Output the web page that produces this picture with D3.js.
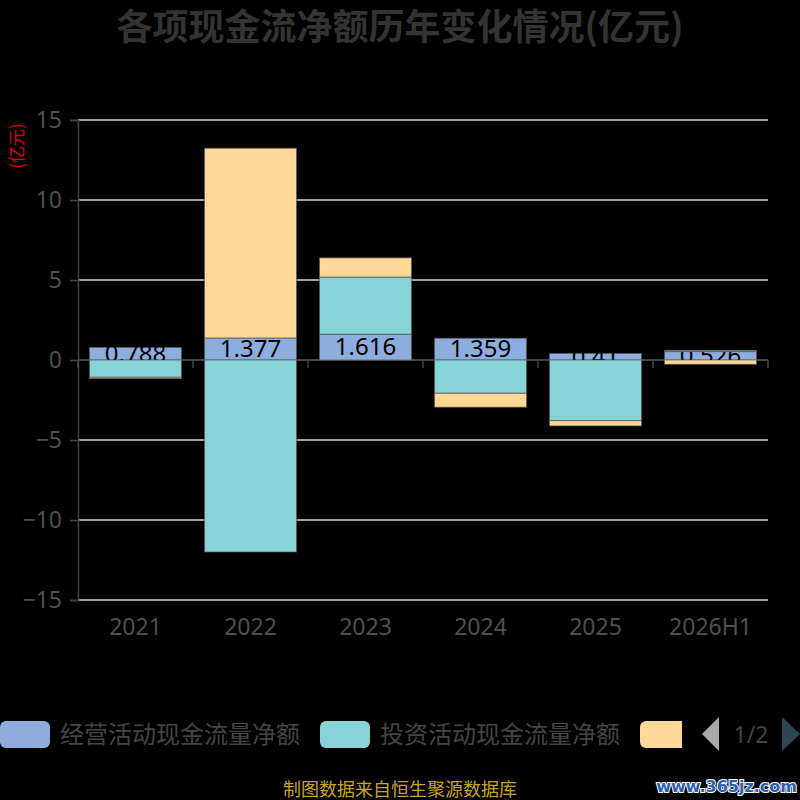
<!DOCTYPE html>
<html lang="zh">
<head>
<meta charset="utf-8">
<style type="text/css">
  body { margin: 0; background: #000; }
  svg { display: block; background: #000; font-family: "Noto Sans CJK SC", "Noto Sans", sans-serif; }
  .grid line { stroke: #d4d4d4; stroke-width: 1.5px; }
  .tick-label { fill: #4f4f4f; font-family: "Noto Sans", "Open Sans", sans-serif; }
</style>
</head>
<body>
<svg width="800" height="800"></svg>

<script src="https://cdn.jsdelivr.net/npm/d3@7/dist/d3.min.js"></script>
<script type="text/javascript">
// data (亿元)
var categories = ["2021", "2022", "2023", "2024", "2025", "2026H1"];
var operating = [0.788, 1.377, 1.616, 1.359, 0.41, 0.526];
var investing = [-1.08, -12.0, 3.57, -2.08, -3.79, 0.08];
var financing = [-0.08, 11.86, 1.2, -0.87, -0.33, -0.27];
var seriesNames = ["经营活动现金流量净额", "投资活动现金流量净额", "筹资活动现金流量净额"];
var seriesColors = ["#8eaddf", "#86d4d8", "#ffd796"];
var yTicks = [-15, -10, -5, 0, 5, 10, 15];

var svg = d3.select("svg"),
    plotLeft = 78, plotRight = 768, plotTop = 120, plotBottom = 600;

var x = d3.scaleBand().domain(categories).range([plotLeft, plotRight]).paddingInner(0.2).paddingOuter(0.1);
var xb = d3.scaleBand().domain(categories).range([plotLeft, plotRight]); // for tick positions
var y = d3.scaleLinear().domain([-15, 15]).range([plotBottom, plotTop]);

// title
svg.append("text")
  .attr("x", 400).attr("y", 40)
  .attr("text-anchor", "middle")
  .attr("font-size", 36).attr("font-weight", "bold")
  .attr("fill", "#333")
  .text("各项现金流净额历年变化情况(亿元)");

// y axis name
svg.append("text")
  .attr("transform", "translate(23,146) rotate(-90)")
  .attr("text-anchor", "middle")
  .attr("font-size", 17)
  .attr("fill", "#e00000")
  .text("(亿元)");

// grid lines (not at zero)
svg.append("g").attr("class", "grid")
  .selectAll("line")
  .data(yTicks.filter(function(d){ return d !== 0; }))
  .enter().append("line")
    .attr("x1", plotLeft).attr("x2", plotRight)
    .attr("y1", function(d){ return y(d); })
    .attr("y2", function(d){ return y(d); });

// y axis
var yAxis = svg.append("g")
  .attr("transform", "translate(" + plotLeft + ",0)")
  .call(d3.axisLeft(y).tickValues(yTicks).tickSize(8).tickPadding(8));
yAxis.select(".domain").attr("stroke", "#444").attr("stroke-width", 1.5);
yAxis.selectAll(".tick line").attr("stroke", "#444").attr("stroke-width", 1.5);
yAxis.selectAll(".tick text").attr("class", "tick-label").attr("font-size", 23);

// x axis at zero
var xAxis = svg.append("g")
  .attr("transform", "translate(0," + y(0) + ")");
xAxis.append("line")
  .attr("x1", plotLeft).attr("x2", plotRight)
  .attr("stroke", "#444").attr("stroke-width", 2);
xAxis.selectAll(".xt")
  .data(categories.concat(["end"]))
  .enter().append("line")
    .attr("x1", function(d, i){ return plotLeft + i * xb.step(); })
    .attr("x2", function(d, i){ return plotLeft + i * xb.step(); })
    .attr("y1", 0).attr("y2", 8)
    .attr("stroke", "#444").attr("stroke-width", 1.5);

svg.append("g").selectAll("text")
  .data(categories)
  .enter().append("text")
    .attr("class", "tick-label")
    .attr("x", function(d){ return x(d) + x.bandwidth() / 2; })
    .attr("y", 635)
    .attr("text-anchor", "middle")
    .attr("font-size", 23)
    .text(function(d){ return d; });

// stacked bars
var rows = categories.map(function(c, i){
  return { cat: c, op: operating[i], inv: investing[i], fin: financing[i] };
});
var stack = d3.stack().keys(["op", "inv", "fin"]).offset(d3.stackOffsetDiverging);
var layers = stack(rows);

var bars = svg.append("g");
layers.forEach(function(layer, k){
  bars.append("g")
    .attr("fill", seriesColors[k])
    .selectAll("rect")
    .data(layer)
    .enter().append("rect")
      .attr("x", function(d){ return x(d.data.cat); })
      .attr("width", x.bandwidth())
      .attr("y", function(d){ return y(Math.max(d[0], d[1])); })
      .attr("height", function(d){ return Math.abs(y(d[0]) - y(d[1])); })
      .attr("stroke", "#555").attr("stroke-opacity", 0.7).attr("stroke-width", 1);

  if (k === 0) {
    bars.append("g")
      .selectAll("text")
      .data(layer)
      .enter().append("text")
        .attr("x", function(d){ return x(d.data.cat) + x.bandwidth() / 2; })
        .attr("y", function(d){ return (y(d[0]) + y(d[1])) / 2 + 8; })
        .attr("text-anchor", "middle")
        .attr("font-family", "Noto Sans, Open Sans, sans-serif")
        .attr("font-size", 24)
        .attr("fill", "#000")
        .text(function(d){ return d.data.op; });
  }
});

// legend (scrolled, page 1/2)
var legend = svg.append("g");
svg.append("defs").append("clipPath").attr("id", "legclip")
  .append("rect").attr("x", 0).attr("y", 700).attr("width", 682).attr("height", 70);
var legX = [0, 320, 640];
var lg = legend.append("g").attr("clip-path", "url(#legclip)");
seriesNames.forEach(function(name, i){
  lg.append("rect")
    .attr("x", legX[i]).attr("y", 721)
    .attr("width", 50).attr("height", 27)
    .attr("rx", 6).attr("ry", 6)
    .attr("fill", seriesColors[i]);
  lg.append("text")
    .attr("x", legX[i] + 60).attr("y", 743)
    .attr("font-size", 24)
    .attr("fill", "#444")
    .text(i < 2 ? name : "");
});
legend.append("path")
  .attr("d", "M719,717 L719,751 L702,734 Z")
  .attr("fill", "#aaa");
legend.append("text")
  .attr("x", 751).attr("y", 743)
  .attr("text-anchor", "middle")
  .attr("font-family", "Noto Sans, sans-serif")
  .attr("font-size", 23)
  .attr("fill", "#444")
  .text("1/2");
legend.append("path")
  .attr("d", "M782,717 L782,751 L800,734 Z")
  .attr("fill", "#2f4554");

// source note
svg.append("text")
  .attr("x", 400).attr("y", 796)
  .attr("text-anchor", "middle")
  .attr("font-size", 18)
  .attr("fill", "#c9a227")
  .text("制图数据来自恒生聚源数据库");

// watermark
svg.append("text")
  .attr("x", 797).attr("y", 792)
  .attr("text-anchor", "end")
  .attr("font-family", "DejaVu Sans, sans-serif")
  .attr("font-size", 16).attr("font-weight", "bold")
  .attr("fill", "#2d5fb0")
  .attr("stroke", "#fff").attr("stroke-width", 2)
  .attr("paint-order", "stroke")
  .text("www.365jz.com");
</script>
</body>
</html>
